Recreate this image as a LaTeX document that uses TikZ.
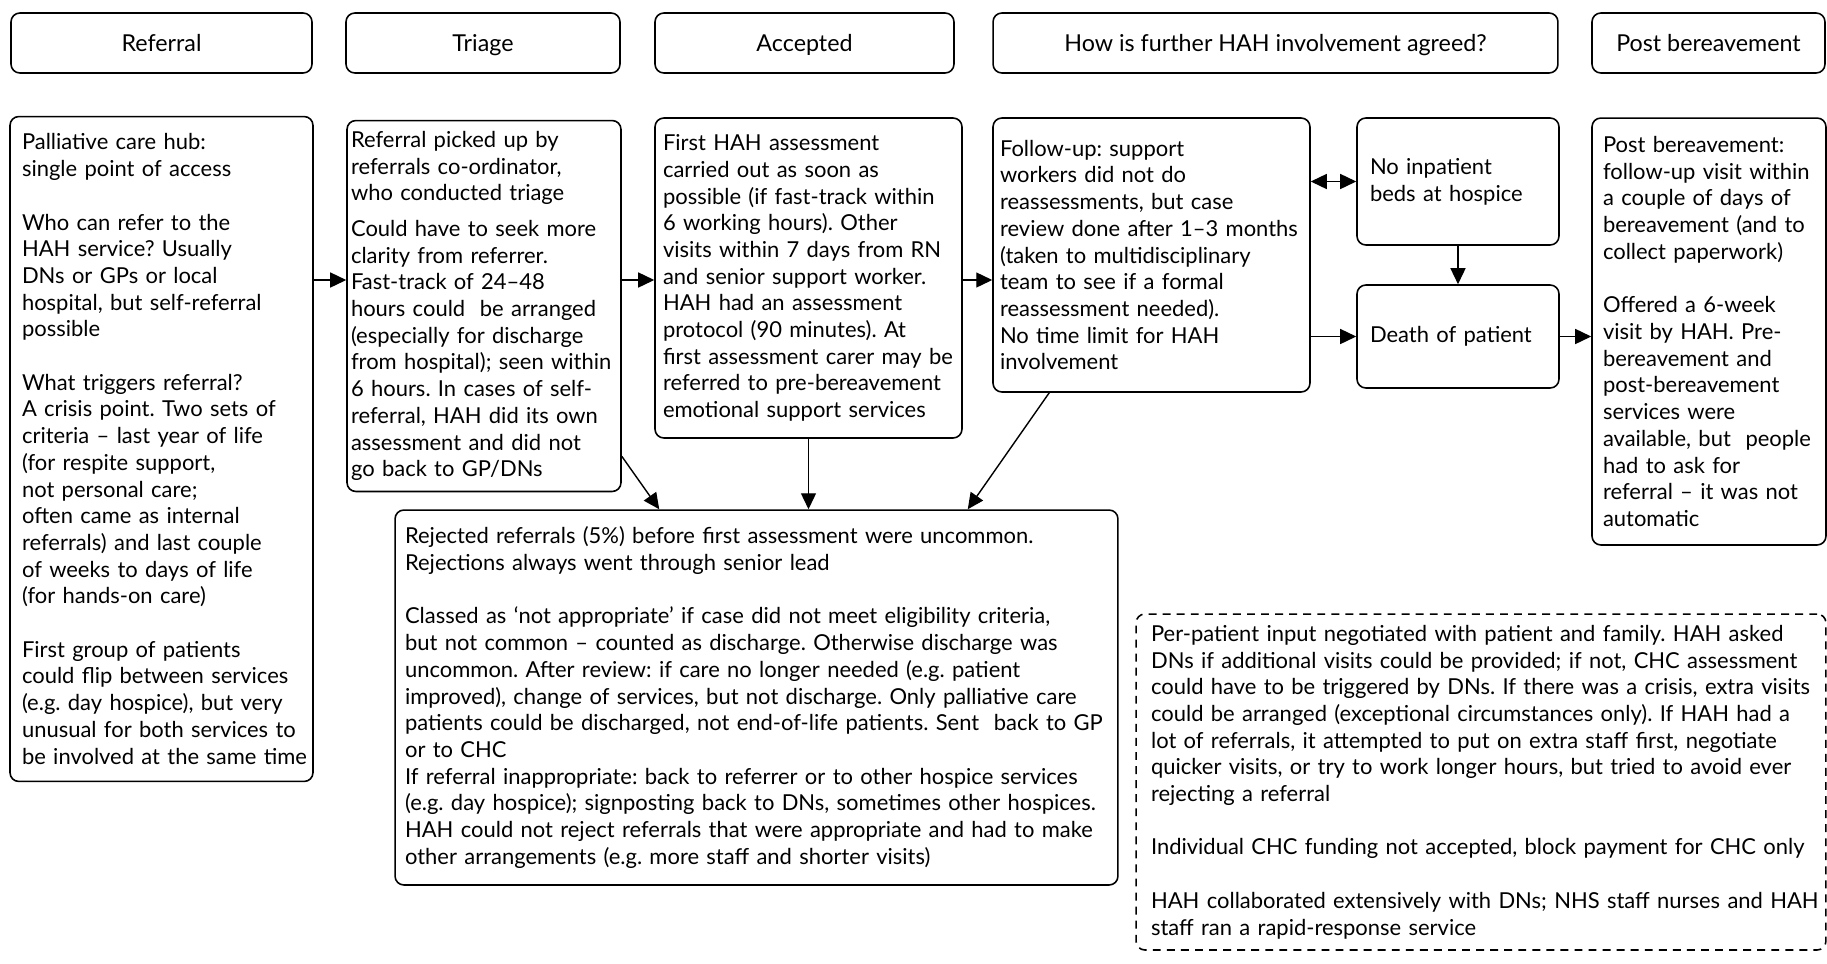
\documentclass[tikz,border=0pt]{standalone}
\usepackage{fontspec}
\setmainfont{Lato}
\usetikzlibrary{arrows.meta}
\frenchspacing
\tikzset{
	stageBox/.style={
		draw
		,line width=0.9pt
		,rounded corners=5pt
		,minimum height=1.2cm
		,font=\fontsize{13.25}{16}\selectfont
		,text height=9.5pt
		,text depth=0pt
		,align=center
		,inner sep=0pt
	},
	infoBox/.style={
		draw
		,line width=0.9pt
		,rounded corners=5pt
		,align=left
		,inner ysep=0pt
	},
	arr/.style={
		-{Triangle[length=0.32cm,width=0.3cm]}
		,line width=0.8pt
	},
}

\begin{document}
\begin{tikzpicture}[x=0.02cm, y=-0.02cm
    , every node/.style={font=\fontsize{12.5}{15.2}\selectfont}
    ]
\useasboundingbox (0,0) rectangle (1827,964);
% stage headers
\node[stageBox, minimum width=6.02cm] (hRef) at (161.5,43) {Referral};
\node[stageBox, minimum width=5.48cm] (hTri) at (483,43) {Triage};
\node[stageBox, minimum width=5.98cm] (hAcc) at (804.5,43) {Accepted};
\node[stageBox, minimum width=11.3cm] (hHow) at (1275.5,43) {How is further HAH involvement agreed?};
\node[stageBox, minimum width=4.66cm] (hPost) at (1708.5,43) {Post bereavement};
% referral
\node[infoBox, inner xsep=0.24cm, text width=5.58cm, minimum height=13.3cm] (ref) at (161.5,449) {%
Palliative care hub:\\ single point of access\\[\baselineskip]
Who can refer to the\\ HAH service? Usually\\ DNs or GPs or local\\ hospital, but self-referral\\ possible\\[\baselineskip]
What triggers referral?\\ A crisis point. Two sets of\\ criteria – last year of life\\ (for respite support,\\ not personal care;\\ often came as internal\\ referrals) and last couple\\ of weeks to days of life\\ (for hands-on care)\\[\baselineskip]
First group of patients\\ could flip between services\\ (e.g. day hospice), but very\\ unusual for both services to\\ \mbox{be involved at the same time}};
% triage
\node[infoBox, inner xsep=0.08cm, text width=5.32cm, minimum height=7.42cm] (tri) at (484,306) {%
Referral picked up by\\ referrals co-ordinator,\\ who conducted triage\\[0.18cm]
Could have to seek more\\ clarity from referrer.\\ Fast-track of 24–48\\ hours could~ be arranged\\ (especially for discharge\\ from hospital); seen within\\ 6 hours. In cases of self-\\ referral, HAH did its own\\ assessment and did not\\ go back to GP/DNs};
% accepted
\node[infoBox, inner xsep=0.16cm, text width=5.82cm, minimum height=6.4cm] (acc) at (808.5,278) {%
First HAH assessment\\ carried out as soon as\\ possible (if fast-track within\\ 6 working hours). Other\\ visits within 7 days from RN\\ and senior support worker.\\ HAH had an assessment\\ protocol (90 minutes). At\\ first assessment carer may be\\ referred to pre-bereavement\\ emotional support services};
% further involvement
\node[infoBox, inner xsep=0.14cm, text width=6.06cm, minimum height=5.48cm] (fol) at (1151.5,255) {%
Follow-up: support\\ workers did not do\\ reassessments, but case\\ review done after 1–3 months\\ (taken to multidisciplinary\\ team to see if a formal\\ reassessment needed).\\ No time limit for HAH\\ involvement};
\node[infoBox, inner xsep=0.26cm, text width=3.52cm, minimum height=2.54cm] (noBeds) at (1458,181.5) {No inpatient\\ beds at hospice};
\node[infoBox, inner xsep=0.26cm, text width=3.52cm, minimum height=2.06cm] (death) at (1458,336.5) {Death of patient};
% post bereavement
\node[infoBox, inner xsep=0.22cm, text width=4.24cm, minimum height=8.54cm] (post) at (1709,331.5) {%
Post bereavement:\\ follow-up visit within\\ a couple of days of\\ bereavement (and to\\ collect paperwork)\\[\baselineskip]
Offered a 6-week\\ visit by HAH. Pre-\\ bereavement and\\ post-bereavement\\ services were\\ available, but~ people\\ had to ask for\\ referral – it was not\\ automatic};
% rejections
\node[infoBox, inner xsep=0.2cm, text width=14.06cm, minimum height=7.5cm] (rej) at (756.5,697.5) {%
Rejected referrals (5\%) before first assessment were uncommon.\\ Rejections always went through senior lead\\[\baselineskip]
Classed as ‘not appropriate’ if case did not meet eligibility criteria,\\ but not common – counted as discharge. Otherwise discharge was\\ uncommon. After review: if care no longer needed (e.g. patient\\ improved), change of services, but not discharge. Only palliative care\\ patients could be discharged, not end-of-life patients. Sent~ back to GP\\ or to CHC\\
If referral inappropriate: back to referrer or to other hospice services\\ (e.g. day hospice); signposting back to DNs, sometimes other hospices.\\ HAH could not reject referrals that were appropriate and had to make\\ other arrangements (e.g. more staff and shorter visits)};
% negotiation notes
\node[infoBox, dash pattern=on 4.5pt off 3.5pt, inner xsep=0.3cm, text width=13.2cm, minimum height=6.72cm] (neg) at (1481,782) {%
Per-patient input negotiated with patient and family. HAH asked\\ DNs if additional visits could be provided; if not, CHC assessment\\ could have to be triggered by DNs. If there was a crisis, extra visits\\ could be arranged (exceptional circumstances only). If HAH had a\\ lot of referrals, it attempted to put on extra staff first, negotiate\\ quicker visits, or try to work longer hours, but tried to avoid ever\\ rejecting a referral\\[\baselineskip]
Individual CHC funding not accepted, block payment for CHC only\\[\baselineskip]
\mbox{HAH collaborated extensively with DNs; NHS staff nurses and HAH}\\ staff ran a rapid-response service};
% connectors
\coordinate (flow) at (0,280);
\draw[arr] (ref.east |- flow) -- (tri.west |- flow);
\draw[arr] (tri.east |- flow) -- (acc.west |- flow);
\draw[arr] (acc.east |- flow) -- (fol.west |- flow);
\draw[{Triangle[length=0.32cm,width=0.3cm]}-{Triangle[length=0.32cm,width=0.3cm]}, line width=0.8pt] (fol.east |- noBeds) -- (noBeds.west);
\draw[arr] (noBeds.south) -- (death.north);
\draw[arr] (fol.east |- death) -- (death.west);
\draw[arr] (death.east) -- (post.west |- death.east);
% into rejections
\draw[arr] ([yshift=0.72cm]tri.south east) -- ([xshift=5.3cm]rej.north west);
\draw[arr] (acc.south) -- (acc.south |- rej.north);
\draw[arr] ([xshift=1.14cm]fol.south west) -- ([xshift=-3.02cm]rej.north east);
\end{tikzpicture}
\end{document}
